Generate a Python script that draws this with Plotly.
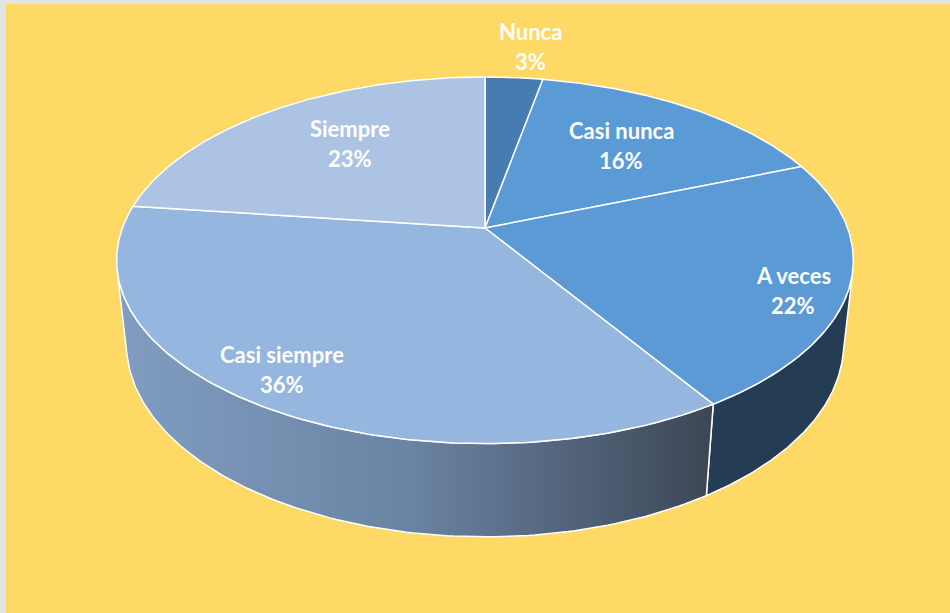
import numpy as np
import plotly.graph_objects as go

# ---- data ----
categories = ["Nunca", "Casi nunca", "A veces", "Casi siempre", "Siempre"]
values = [3, 16, 22, 36, 23]

# ---- styles ----
top_colors = ["#467CAF", "#5B9BD5", "#5B9AD5", "#95B6DE", "#ADC3E3"]
wall_colors = ["#2A4A68", "#35577A", "#243D55", "#5F7898", "#6B84A4"]
wall_gradients = {3: [[0, "#809DC1"], [0.5, "#6A83A2"], [1, "#3C4655"]]}
label_pos = [(530, 31), (621, 130), (793, 275), (282, 354), (350, 128)]
line_gap = 30

# ---- 3D projection of pie (perspective) ----
CX, CY = 485.0, 228.0
F = 1795.0
DIST = 4.95
ELEV = np.arcsin(0.4898)
THICK = 0.269
ce, se = np.cos(ELEV), np.sin(ELEV)


def project(theta, z, r=1.0):
    x = r * np.sin(theta)
    y = r * np.cos(theta)
    D = DIST + y * ce - z * se
    U = y * se + z * ce
    return CX + F * x / D, CY - F * U / D


total = float(sum(values))
bounds = np.concatenate([[0], np.cumsum(values)]) / total * 2 * np.pi

# front-facing range of the outer wall
lim = np.arccos(-1.0 / (DIST * ce))
vis_lo, vis_hi = lim, 2 * np.pi - lim

fig = go.Figure()

# walls
for i, cat in enumerate(categories):
    a0, a1 = bounds[i], bounds[i + 1]
    lo, hi = max(a0, vis_lo), min(a1, vis_hi)
    if hi <= lo:
        continue
    t = np.linspace(lo, hi, 120)
    xt, yt = project(t, 0.0)
    xb, yb = project(t[::-1], -THICK)
    xs = np.concatenate([xt, xb, xt[:1]])
    ys = np.concatenate([yt, yb, yt[:1]])
    kw = {}
    if i in wall_gradients:
        kw["fillgradient"] = dict(type="horizontal", colorscale=wall_gradients[i])
    else:
        kw["fillcolor"] = wall_colors[i]
    fig.add_trace(go.Scatter(x=xs, y=ys, mode="lines", fill="toself",
                             line=dict(color="white", width=1.5),
                             hoverinfo="skip", showlegend=False, **kw))

# top faces
for i, cat in enumerate(categories):
    a0, a1 = bounds[i], bounds[i + 1]
    t = np.linspace(a0, a1, 150)
    xt, yt = project(t, 0.0)
    xs = np.concatenate([[CX], xt, [CX]])
    ys = np.concatenate([[CY], yt, [CY]])
    fig.add_trace(go.Scatter(x=xs, y=ys, mode="lines", fill="toself",
                             fillcolor=top_colors[i],
                             line=dict(color="white", width=1.5),
                             hoverinfo="text", text=f"{cat}: {values[i]}%",
                             showlegend=False))

# labels
annotations = []
for i, cat in enumerate(categories):
    lx, ly = label_pos[i]
    for txt, yy in [(cat, ly), (f"{values[i]}%", ly + line_gap)]:
        annotations.append(dict(x=lx, y=yy, xref="x", yref="y", text=txt,
                                showarrow=False, xanchor="center", yanchor="middle",
                                font=dict(family="Lato", size=22, color="white",
                                          weight="bold")))

fig.update_layout(
    width=950, height=613,
    margin=dict(l=0, r=0, t=0, b=0),
    paper_bgcolor="#FED966",
    plot_bgcolor="#FED966",
    xaxis=dict(range=[0, 950], visible=False, fixedrange=True),
    yaxis=dict(range=[613, 0], visible=False, fixedrange=True),
    annotations=annotations,
    shapes=[
        dict(type="rect", xref="x", yref="y", x0=0, x1=950, y0=0, y1=4,
             fillcolor="#E3E3E3", line=dict(width=0), layer="below"),
        dict(type="rect", xref="x", yref="y", x0=0, x1=6, y0=0, y1=613,
             fillcolor="#E3E3E3", line=dict(width=0), layer="below"),
    ],
)

fig.write_html("out.html",
               config={"displayModeBar": False},
               post_script="document.body.style.margin='0';document.body.style.overflow='hidden';")
